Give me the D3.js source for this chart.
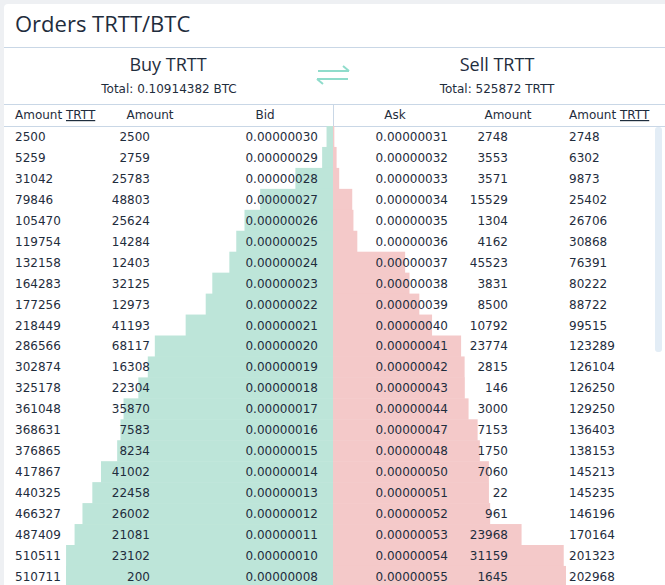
<!DOCTYPE html>
<html>
<head>
<meta charset="utf-8">
<script src="https://cdn.jsdelivr.net/npm/d3@7"></script>
<style>
  body { margin: 0; background: #eef0f3; font-family: "DejaVu Sans", sans-serif; }
</style>
</head>
<body>
<svg id="book" width="665" height="585"></svg>
<script>
(function () {
    // bids
    var bidPrices = ['0.00000030', '0.00000029', '0.00000028', '0.00000027', '0.00000026', '0.00000025', '0.00000024',
        '0.00000023', '0.00000022', '0.00000021', '0.00000020', '0.00000019', '0.00000018', '0.00000017', '0.00000016',
        '0.00000015', '0.00000014', '0.00000013', '0.00000012', '0.00000011', '0.00000010', '0.00000008'];
    var bidAmounts = [2500, 2759, 25783, 48803, 25624, 14284, 12403, 32125, 12973, 41193, 68117, 16308, 22304,
        35870, 7583, 8234, 41002, 22458, 26002, 21081, 23102, 200];
    var bidTotals = [2500, 5259, 31042, 79846, 105470, 119754, 132158, 164283, 177256, 218449, 286566, 302874,
        325178, 361048, 368631, 376865, 417867, 440325, 466327, 487409, 510511, 510711];

    // asks
    var askPrices = ['0.00000031', '0.00000032', '0.00000033', '0.00000034', '0.00000035', '0.00000036', '0.00000037',
        '0.00000038', '0.00000039', '0.00000040', '0.00000041', '0.00000042', '0.00000043', '0.00000044', '0.00000047',
        '0.00000048', '0.00000050', '0.00000051', '0.00000052', '0.00000053', '0.00000054', '0.00000055'];
    var askAmounts = [2748, 3553, 3571, 15529, 1304, 4162, 45523, 3831, 8500, 10792, 23774, 2815, 146, 3000, 7153,
        1750, 7060, 22, 961, 23968, 31159, 1645];
    var askTotals = [2748, 6302, 9873, 25402, 26706, 30868, 76391, 80222, 88722, 99515, 123289, 126104, 126250,
        129250, 136403, 138153, 145213, 145235, 146196, 170164, 201323, 202968];

    var svg = d3.select('#book');
    var ink = '#1f2d3d';
    var mid = 333;
    var top = 126;
    var rowH = 20.95;
    var n = bidPrices.length;

    // card
    svg.append('rect').attr('x', 4).attr('y', 4).attr('width', 670).attr('height', 600)
        .attr('rx', 4).style('fill', '#fff');

    svg.append('text').text('Orders TRTT/BTC').attr('x', 15).attr('y', 32)
        .style('font-family', 'Open Sans').style('font-size', '22px').style('fill', ink);
    svg.append('line').attr('x1', 4).attr('x2', 665).attr('y1', 47.5).attr('y2', 47.5).style('stroke', '#c9d7e6');

    svg.append('text').text('Buy TRTT').attr('x', 168).attr('y', 71).attr('text-anchor', 'middle')
        .style('font-family', 'Open Sans').style('font-size', '18px').style('fill', ink);
    svg.append('text').text('Total: 0.10914382 BTC').attr('x', 169).attr('y', 93).attr('text-anchor', 'middle')
        .style('font-size', '12px').style('fill', ink);
    svg.append('text').text('Sell TRTT').attr('x', 497).attr('y', 71).attr('text-anchor', 'middle')
        .style('font-family', 'Open Sans').style('font-size', '18px').style('fill', ink);
    svg.append('text').text('Total: 525872 TRTT').attr('x', 497).attr('y', 93).attr('text-anchor', 'middle')
        .style('font-size', '12px').style('fill', ink);

    // swap arrows
    var arrow = svg.append('g').style('stroke', '#8fdccb').style('stroke-width', 2).style('fill', 'none');
    arrow.append('path').attr('d', 'M318,71 H349 M343,66 L349,71');
    arrow.append('path').attr('d', 'M348,79 H317 M323,84 L317,79');

    svg.append('line').attr('x1', 4).attr('x2', 665).attr('y1', 104.5).attr('y2', 104.5).style('stroke', '#c9d7e6');
    svg.append('line').attr('x1', 4).attr('x2', 665).attr('y1', 126.5).attr('y2', 126.5).style('stroke', '#c9d7e6');
    svg.append('line').attr('x1', mid + 0.5).attr('x2', mid + 0.5).attr('y1', 104).attr('y2', 126).style('stroke', '#c9d7e6');

    // headers
    var heads = [
        { t: 'Amount ', u: 'TRTT', x: 15, a: 'start' },
        { t: 'Amount', x: 150, a: 'middle' },
        { t: 'Bid', x: 265, a: 'middle' },
        { t: 'Ask', x: 395, a: 'middle' },
        { t: 'Amount', x: 508, a: 'middle' },
        { t: 'Amount ', u: 'TRTT', x: 569, a: 'start' }
    ];
    heads.forEach(function (h) {
        var t = svg.append('text').attr('x', h.x).attr('y', 119).attr('text-anchor', h.a)
            .style('font-size', '12px').style('fill', ink);
        t.append('tspan').text(h.t);
        if (h.u) t.append('tspan').text(h.u).style('text-decoration', 'underline');
    });

    var y = d3.scaleBand().domain(d3.range(n)).range([top, top + n * rowH]);
    var bidW = d3.scalePow().exponent(0.7).domain([0, d3.max(bidTotals)]).range([0, 267]);
    var askW = d3.scalePow().exponent(1.2).domain([0, d3.max(askTotals)]).range([0, 233]);

    svg.append('g').selectAll('rect').data(bidTotals).enter().append('rect')
        .attr('x', function (d) { return mid - bidW(d); })
        .attr('y', function (d, i) { return y(i); })
        .attr('width', function (d) { return bidW(d); })
        .attr('height', y.bandwidth() + 0.5)
        .style('fill', '#bde5d9');

    svg.append('g').selectAll('rect').data(askTotals).enter().append('rect')
        .attr('x', mid)
        .attr('y', function (d, i) { return y(i); })
        .attr('width', function (d) { return askW(d); })
        .attr('height', y.bandwidth() + 0.5)
        .style('fill', '#f4c9c9');

    function column(values, x, anchor) {
        svg.append('g').selectAll('text').data(values).enter().append('text')
            .text(function (d) { return d; })
            .attr('x', x)
            .attr('y', function (d, i) { return y(i) + rowH / 2 + 4.5; })
            .attr('text-anchor', anchor)
            .style('font-size', '12px').style('fill', ink);
    }
    column(bidTotals, 15, 'start');
    column(bidAmounts, 150, 'end');
    column(bidPrices, 318, 'end');
    column(askPrices, 448, 'end');
    column(askAmounts, 508, 'end');
    column(askTotals, 569, 'start');

    // scrollbar
    svg.append('rect').attr('x', 655).attr('y', 127).attr('width', 7).attr('height', 225)
        .attr('rx', 3).style('fill', '#e3edf6');
})();
</script>
</body>
</html>
